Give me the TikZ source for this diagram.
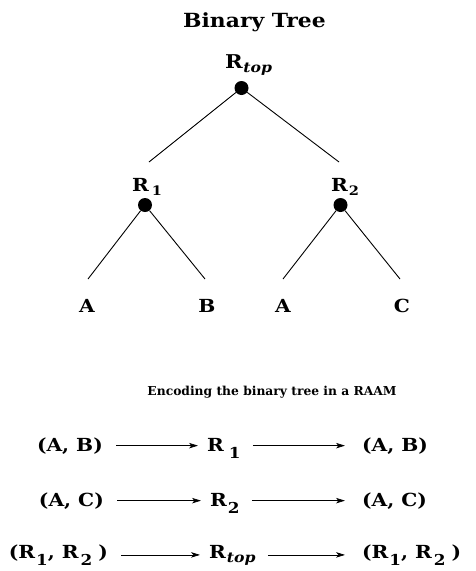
\documentclass[tikz,border=0pt]{standalone}
\usepackage{fontspec}
\setmainfont{DejaVu Serif}[FakeStretch=1.12]
\newfontfamily\capfont{DejaVu Serif}
\usetikzlibrary{arrows.meta}
\newcommand\lowsub[3]{\kern#1\raisebox{-0.45ex}{\fontsize{#2}{#2}\selectfont #3}}
\newcommand\deepsub[3]{\kern#1\raisebox{-0.8ex}{\fontsize{#2}{#2}\selectfont #3}}
\begin{document}
\begin{tikzpicture}[x=1pt,y=1pt,
  dot/.style={circle,fill=black,inner sep=0pt,minimum size=14pt},
  edge/.style={line width=0.9pt},
  titlefont/.style={font=\bfseries\fontsize{19.5}{22}\selectfont, inner sep=0pt},
  lbl/.style={font=\bfseries\fontsize{18}{20}\selectfont, inner sep=0pt},
  caption/.style={font=\capfont\bfseries\fontsize{12.3}{14}\selectfont, inner sep=0pt},
  rowtxt/.style={font=\bfseries\fontsize{18}{20}\selectfont, inner sep=0pt},
  arr/.style={line width=0.7pt,-{Stealth[length=9pt,width=5.5pt,inset=2.5pt]}}]
\useasboundingbox (0,0) rectangle (476,-571);
% title
\node[titlefont, anchor=base] (title) at (254.5,-27) {Binary Tree};
% tree
\node[lbl, anchor=base west] (rtoplbl) at (225,-68) {{\fontsize{19}{20}\selectfont R}\lowsub{0.5pt}{14}{\itshape top}};
\node[dot] (top) at (241.5,-88) {};
\node[lbl, anchor=base west] (r1lbl) at (132,-191) {R\lowsub{3pt}{13}{1}};
\node[lbl, anchor=base west] (r2lbl) at (331,-191) {R\lowsub{1pt}{13}{2}};
\node[dot] (r1) at (145,-205) {};
\node[dot] (r2) at (340.5,-205) {};
\coordinate (e1) at (149,-162);
\coordinate (e2) at (339,-162);
\coordinate (l1) at (88,-279);
\coordinate (l2) at (205,-279);
\coordinate (l3) at (283,-279);
\coordinate (l4) at (400,-279);
\draw[edge] (top) -- (e1);
\draw[edge] (top) -- (e2);
\draw[edge] (r1) -- (l1);
\draw[edge] (r1) -- (l2);
\draw[edge] (r2) -- (l3);
\draw[edge] (r2) -- (l4);
\node[lbl, anchor=base] (la) at (87,-312) {A};
\node[lbl, anchor=base] (lb) at (207,-312) {B};
\node[lbl, anchor=base] (lc) at (283,-312) {A};
\node[lbl, anchor=base] (ld) at (402,-312) {C};
% caption
\node[caption, anchor=base] (cap) at (272,-395) {Encoding the binary tree in a RAAM};
% rows
\node[rowtxt, anchor=base east] (a1) at (103,-451) {(A, B)};
\node[rowtxt, anchor=base west] (b1) at (207,-451) {R\deepsub{5pt}{15}{1}};
\node[rowtxt, anchor=base west] (c1) at (362,-451) {(A, B)};
\node[rowtxt, anchor=base east] (a2) at (104,-506) {(A, C)};
\node[rowtxt, anchor=base west] (b2) at (210,-506) {R\deepsub{1pt}{15}{2}};
\node[rowtxt, anchor=base west] (c2) at (362,-506) {(A, C)};
\node[rowtxt, anchor=base east] (a3) at (108,-558) {(R\deepsub{1pt}{15}{1}, R\deepsub{2pt}{15}{2}\,\,)};
\node[rowtxt, anchor=base west] (b3) at (209,-558) {R\lowsub{1pt}{14}{\itshape top}};
\node[rowtxt, anchor=base west] (c3) at (362,-558) {(R\deepsub{1pt}{15}{1}, R\deepsub{2pt}{15}{2}\,\,)};
\foreach \r in {1,2,3}{
  \draw[arr, shorten <=13pt, shorten >=9pt] (a\r.east) -- (b\r.west |- a\r.east);
  \draw[arr, shorten <=12pt, shorten >=17pt] (b\r.east |- a\r.east) -- (c\r.west |- a\r.east);
}
\end{tikzpicture}
\end{document}
